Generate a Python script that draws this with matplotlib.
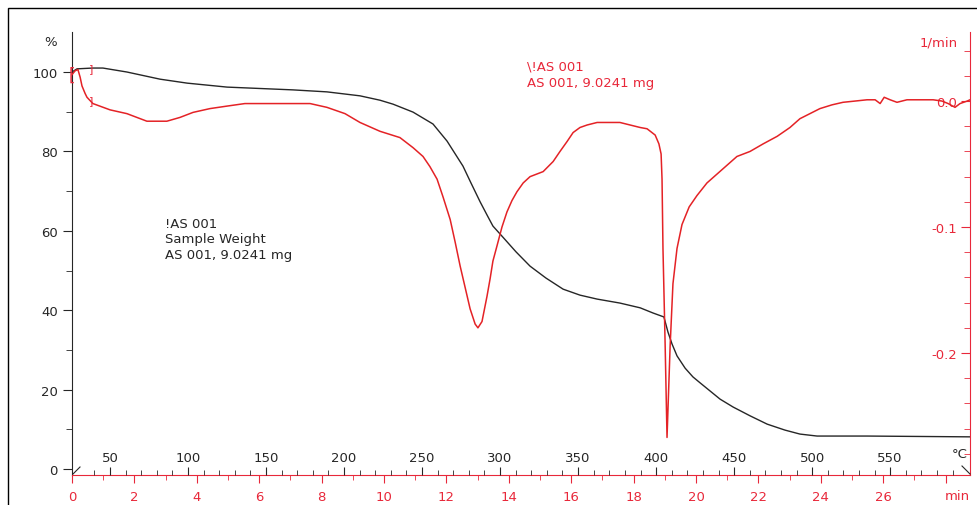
import matplotlib
matplotlib.use("Agg")
import matplotlib.pyplot as plt
from matplotlib.ticker import FixedLocator
from matplotlib.patches import Rectangle
from matplotlib.lines import Line2D

plt.rcParams['font.family'] = ['DejaVu Sans']

RED = '#e8283a'
CURVE_RED = '#e42226'
DARK = '#262626'
FS = 9.5

# TG curve: time (min) -> sample weight (%)
tg_time = [0, 0.16, 0.67, 0.99, 1.76, 2.82, 3.69, 4.97, 7.08, 8.17,
           9.23, 9.87, 10.29, 10.93, 11.57, 12.02, 12.53, 12.79, 13.08, 13.30,
           13.49, 13.81, 14.23, 14.68, 15.19, 15.74, 16.28, 16.83, 17.56, 18.21,
           18.62, 18.97, 19.10, 19.23, 19.39, 19.65, 19.90, 20.13, 20.77, 21.19,
           21.73, 22.28, 22.85, 23.33, 23.88, 25.48, 28.78]
tg_mass = [100.0, 100.8, 101.0, 101.0, 100.0, 98.2, 97.2, 96.2, 95.5, 95.0,
           94.0, 92.9, 91.9, 89.9, 86.9, 82.6, 76.3, 72.0, 67.3, 64.0,
           61.2, 58.4, 54.7, 51.1, 48.1, 45.3, 43.8, 42.8, 41.8, 40.6,
           39.3, 38.3, 34.5, 31.5, 28.5, 25.4, 23.2, 21.7, 17.6, 15.6,
           13.4, 11.3, 9.8, 8.8, 8.3, 8.3, 8.1]

# DTG curve: time (min) -> rate (1/min)
dtg_time = [0.00, 0.10, 0.19, 0.26, 0.32, 0.42, 0.48, 0.67, 1.22, 1.76,
            2.40, 3.04, 3.46, 3.88, 4.42, 4.97, 5.54, 6.03, 7.08, 7.63,
            8.17, 8.75, 9.23, 9.87, 10.51, 10.93, 11.25, 11.47, 11.70, 11.89,
            12.12, 12.28, 12.44, 12.60, 12.76, 12.92, 13.01, 13.14, 13.30, 13.40,
            13.49, 13.62, 13.78, 13.94, 14.10, 14.26, 14.46, 14.68, 15.10, 15.42,
            15.64, 15.87, 16.06, 16.28, 16.51, 16.83, 17.56, 18.21, 18.43, 18.69,
            18.81, 18.88, 18.91, 18.94, 19.01, 19.07, 19.17, 19.26, 19.39, 19.55,
            19.78, 20.03, 20.35, 20.67, 21.31, 21.73, 22.15, 22.60, 23.01, 23.33,
            23.65, 23.97, 24.36, 24.71, 25.10, 25.48, 25.74, 25.90, 26.03, 26.22,
            26.44, 26.76, 27.60, 27.88, 28.08, 28.30, 28.46, 28.69, 28.78]
dtg_rate = [0.021, 0.024, 0.025, 0.019, 0.012, 0.006, 0.003, -0.002, -0.007, -0.010,
            -0.016, -0.016, -0.013, -0.009, -0.006, -0.004, -0.002, -0.002, -0.002, -0.002,
            -0.005, -0.010, -0.017, -0.024, -0.029, -0.037, -0.044, -0.052, -0.062, -0.076,
            -0.094, -0.112, -0.131, -0.148, -0.165, -0.177, -0.180, -0.175, -0.155, -0.141,
            -0.127, -0.115, -0.100, -0.088, -0.079, -0.072, -0.065, -0.060, -0.056, -0.048,
            -0.040, -0.032, -0.025, -0.021, -0.019, -0.017, -0.017, -0.021, -0.022, -0.027,
            -0.034, -0.042, -0.062, -0.117, -0.194, -0.267, -0.194, -0.145, -0.117, -0.098,
            -0.084, -0.075, -0.065, -0.058, -0.044, -0.040, -0.034, -0.028, -0.021, -0.014,
            -0.010, -0.006, -0.003, -0.001, 0.000, 0.001, 0.001, -0.002, 0.003, 0.001,
            -0.001, 0.001, 0.001, 0.000, -0.002, -0.005, -0.002, 0.000, 0.001]

time_ticks = list(range(0, 29, 2))
time_labels = [str(t) for t in time_ticks[:-1]] + ['']
time_minor = list(range(1, 29, 2))
temp_ticks = list(range(50, 551, 50))
temp_minor = [t for t in range(40, 600, 10) if t % 50]
mass_ticks = [0, 20, 40, 60, 80, 100]
mass_minor = [10, 30, 50, 70, 90]
rate_ticks = [-0.2, -0.1, 0.0]
rate_labels = ['-0.2', '-0.1', '0.0']
rate_minor = [0.04, 0.02, -0.02, -0.04, -0.06, -0.08, -0.12, -0.14, -0.16,
              -0.18, -0.22, -0.24, -0.26, -0.28]

t_end = 28.78
temp_start, heat_rate = 25.6, 20.0  # degC, degC/min

W, H = 977, 506
fig = plt.figure(figsize=(W / 100, H / 100), dpi=100)
ax = fig.add_axes([72 / W, 1 - 476 / H, (970 - 72) / W, (476 - 33) / H])

# weight curve
ax.plot(tg_time, tg_mass, color=DARK, lw=1.0)
ax.set_xlim(0, t_end)
ax.set_ylim(-1.51, 110.08)
for s in ['top', 'right']:
    ax.spines[s].set_visible(False)
ax.spines['left'].set_color(DARK)
ax.spines['bottom'].set_color(RED)
ax.set_xticks(time_ticks, time_labels)
ax.xaxis.set_minor_locator(FixedLocator(time_minor))
ax.tick_params(axis='x', which='major', direction='out', length=5.8, color=RED,
               labelcolor=RED, labelsize=FS, pad=5)
ax.tick_params(axis='x', which='minor', direction='out', length=3.6, color=RED)
ax.set_yticks(mass_ticks)
ax.yaxis.set_minor_locator(FixedLocator(mass_minor))
ax.tick_params(axis='y', which='major', direction='out', length=6.5, color=DARK,
               labelcolor=DARK, labelsize=FS, pad=3.6)
ax.tick_params(axis='y', which='minor', direction='out', length=4.3, color=DARK)

# derivative curve
axr = ax.twinx()
axr.plot(dtg_time, dtg_rate, color=CURVE_RED, lw=1.1)
axr.set_ylim(-0.2968, 0.0548)
for s in ['top', 'left', 'bottom']:
    axr.spines[s].set_visible(False)
axr.spines['right'].set_color(RED)
axr.set_yticks(rate_ticks, rate_labels)
axr.yaxis.set_minor_locator(FixedLocator(rate_minor))
axr.tick_params(axis='y', which='major', direction='in', length=6.5, color=RED,
                labelcolor=RED, labelsize=FS, pad=-9.4)
axr.tick_params(axis='y', which='minor', direction='in', length=4.3, color=RED)
for tk in axr.yaxis.get_major_ticks():
    tk.label2.set_horizontalalignment('right')

# temperature scale sitting on the time axis
axT = ax.twiny()
axT.set_xlim(temp_start, temp_start + heat_rate * t_end)
axT.spines['top'].set_position(('axes', 0))
for s in ['top', 'left', 'right', 'bottom']:
    axT.spines[s].set_visible(False)
axT.set_xticks(temp_ticks)
axT.xaxis.set_minor_locator(FixedLocator(temp_minor))
axT.tick_params(axis='x', which='major', direction='out', length=5.8, color=DARK,
                labelcolor=DARK, labelsize=FS, pad=2)
axT.tick_params(axis='x', which='minor', direction='out', length=3.6, color=DARK)

# start brackets
ax.text(0, 99.2, '[', color=RED, fontsize=12, ha='center', va='center', clip_on=False)
ax.text(0.62, 101.0, ']', color=RED, fontsize=8, ha='center', va='center')
axr.text(0.62, 0.001, ']', color=RED, fontsize=8, ha='center', va='center')

# unit labels
fig.text(51 / W, 1 - 42 / H, '%', color=DARK, fontsize=FS, ha='center', va='center')
fig.text(958 / W, 1 - 43 / H, '1/min', color=RED, fontsize=FS, ha='right', va='center')
fig.text(968 / W, 1 - 455 / H, '°C', color=DARK, fontsize=FS, ha='right', va='center')
fig.text(970 / W, 1 - 497 / H, 'min', color=RED, fontsize=FS, ha='right', va='center')

# curve captions
fig.text(165 / W, 1 - 218 / H, '!AS 001\nSample Weight\nAS 001, 9.0241 mg',
         color=DARK, fontsize=FS, ha='left', va='top', linespacing=1.25)
fig.text(527 / W, 1 - 61 / H, '\\!AS 001\nAS 001, 9.0241 mg',
         color=RED, fontsize=FS, ha='left', va='top', linespacing=1.25)

# axis break marks
fig.add_artist(Line2D([73 / W, 80 / W], [1 - 475 / H, 1 - 468 / H], color=DARK, lw=0.8))
fig.add_artist(Line2D([962 / W, 970 / W], [1 - 467 / H, 1 - 475 / H], color=DARK, lw=0.8))

# outer frame
fig.add_artist(Rectangle((8 / W, -0.1), 1.2, 1 - 9 / H + 0.1, fill=False,
                         ec='black', lw=1.0, transform=fig.transFigure))

fig.savefig('out.png', dpi=100)
